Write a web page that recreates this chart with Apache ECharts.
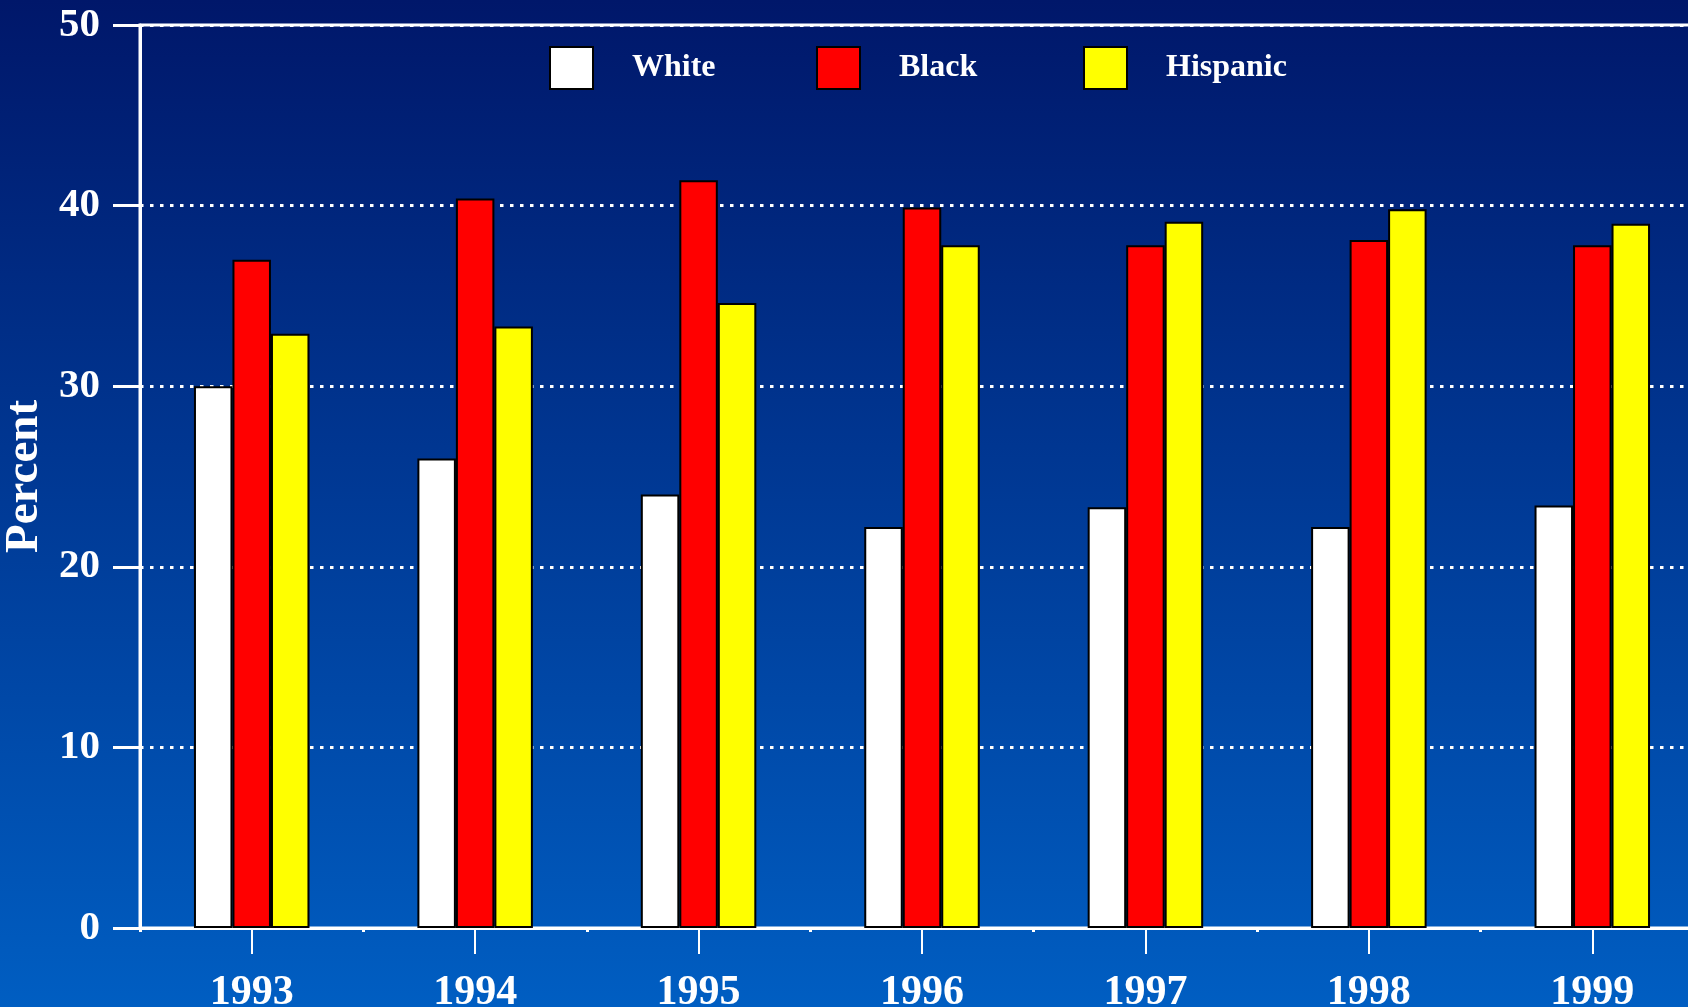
<!DOCTYPE html>
<html>
<head>
<meta charset="utf-8">
<script src="https://cdn.jsdelivr.net/npm/echarts@6/dist/echarts.min.js"></script>
<style>
html,body{margin:0;padding:0;}
#chart{width:1688px;height:1007px;}
</style>
</head>
<body>
<div id="chart"></div>
<script>
const years = ['1993', '1994', '1995', '1996', '1997', '1998', '1999'];
const seriesNames = ['White', 'Black', 'Hispanic'];
const white = [30.0, 26.0, 24.0, 22.2, 23.3, 22.2, 23.4];
const black = [37.0, 40.4, 41.4, 39.9, 37.8, 38.1, 37.8];
const hispanic = [32.9, 33.3, 34.6, 37.8, 39.1, 39.8, 39.0];
const yTicks = [0, 10, 20, 30, 40, 50];

const FONT = "'Liberation Serif', 'Times New Roman', serif";
const colors = ['#ffffff', '#ff0000', '#ffff00'];
const values = [white, black, hispanic];

const chart = echarts.init(document.getElementById('chart'));

const legendLefts = [549, 816, 1083];
const legends = seriesNames.map((n, i) => ({
  data: [n],
  left: legendLefts[i],
  top: 46,
  padding: 0,
  itemWidth: 43,
  itemHeight: 42,
  icon: 'rect',
  selectedMode: false,
  textStyle: {
    color: '#fff', fontFamily: FONT, fontWeight: 'bold', fontSize: 32,
    padding: [0, 0, 0, 34]
  }
}));

const option = {
  animation: false,
  backgroundColor: {
    type: 'linear', x: 0, y: 0, x2: 0, y2: 1,
    colorStops: [
      { offset: 0, color: '#00176a' },
      { offset: 0.5, color: '#003a96' },
      { offset: 1, color: '#005ec2' }
    ]
  },
  legend: legends,
  grid: {
    left: 140, right: -16, top: 25, bottom: 79,
    containLabel: false,
    outerBoundsMode: 'none',
    show: true, borderColor: '#ffffff', borderWidth: 3,
    backgroundColor: 'transparent'
  },
  xAxis: [
    {
      type: 'category',
      data: years,
      position: 'bottom',
      axisLine: { show: true, lineStyle: { color: '#fff', width: 3 } },
      axisTick: { show: true, alignWithLabel: true, length: 26, lineStyle: { color: '#fff', width: 2 } },
      axisLabel: { color: '#fff', fontFamily: FONT, fontWeight: 'bold', fontSize: 42, margin: 44 },
      splitLine: { show: false }
    },
    {
      type: 'category',
      data: years,
      position: 'bottom',
      axisLine: { show: false },
      axisTick: { show: true, alignWithLabel: false, length: 4, lineStyle: { color: '#fff', width: 3 } },
      axisLabel: { show: false },
      splitLine: { show: false }
    }
  ],
  yAxis: [
    {
      type: 'value',
      min: yTicks[0],
      max: yTicks[yTicks.length - 1],
      interval: 10,
      position: 'left',
      axisLine: { show: true, lineStyle: { color: '#fff', width: 3 } },
      axisTick: { show: true, length: 27, lineStyle: { color: '#fff', width: 3 } },
      axisLabel: { color: '#fff', fontFamily: FONT, fontWeight: 'bold', fontSize: 41, margin: 40 },
      splitLine: { show: true, lineStyle: { color: '#fff', width: 3, type: [3.5, 6.5] } }
    },
    {
      type: 'value',
      min: yTicks[0],
      max: yTicks[yTicks.length - 1],
      interval: 10,
      position: 'left',
      offset: 0,
      name: 'Percent',
      nameLocation: 'middle',
      nameRotate: 90,
      nameGap: 92,
      nameTextStyle: { color: '#fff', fontFamily: FONT, fontWeight: 'bold', fontSize: 47 },
      axisLine: { show: false },
      axisTick: { show: false },
      axisLabel: { show: false },
      splitLine: { show: false }
    }
  ],
  series: seriesNames.map((n, i) => ({
    name: n,
    type: 'bar',
    xAxisIndex: 0,
    yAxisIndex: 0,
    data: values[i],
    barWidth: 38.5,
    barGap: '0%',
    itemStyle: { color: colors[i], borderColor: '#000', borderWidth: 2 }
  }))
};

chart.setOption(option);
</script>
</body>
</html>
